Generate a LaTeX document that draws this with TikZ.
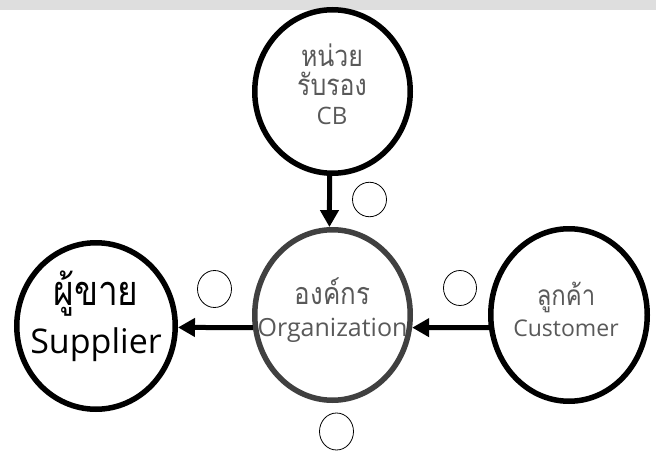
\documentclass[tikz,border=0pt]{standalone}
\usepackage{fontspec}
\setmainfont{Open Sans}
\newfontfamily\thaifont[Script=Thai, Scale=1.22, FakeStretch=0.85]{Loma}
\usetikzlibrary{arrows.meta,shapes.geometric}

\definecolor{barGray}{RGB}{222,222,222}
\definecolor{ringGray}{RGB}{64,64,64}
\definecolor{textGray}{RGB}{89,89,89}

\begin{document}
\begin{tikzpicture}[x = 1pt, y = -1pt,
  ring/.style={draw=black, line width=5.5pt, ellipse, inner sep=0pt},
  tag/.style={draw=black, line width=0.8pt, ellipse, inner sep=0pt},
  flow/.style={line width=5pt, -{Triangle[length=17pt,width=18pt]}},
  caption/.style={align=center, text=textGray, inner sep=0pt}]
\useasboundingbox (0,0) rectangle (656,452);
% Top bar
\fill[barGray] (0,0) rectangle (656,10);
% Certification body
\node[ring, minimum width=155.5pt, minimum height=163.5pt] (cb) at (332.5,91.5) {};
\node[caption, font=\fontsize{24}{29}\selectfont] (cbtext) at (332,84) {{\thaifont หน่วย}\\{\thaifont รับรอง}\\CB};
% Organization
\node[ring, draw=ringGray, minimum width=155.5pt, minimum height=170.5pt] (org) at (332.5,315) {};
\node[caption, font=\fontsize{25}{32}\selectfont] (orgtext) at (332.5,310) {{\thaifont องค์กร}\\Organization};
% Supplier
\node[ring, minimum width=158.5pt, minimum height=166.5pt] (sup) at (96,326) {};
\node[caption, text=black, font=\fontsize{34}{48}\selectfont] (suptext) at (96,316) {{\thaifont ผู้ขาย}\\Supplier};
% Customer
\node[ring, minimum width=156.5pt, minimum height=172.5pt] (cust) at (569,315) {};
\node[caption, font=\fontsize{23}{31}\selectfont] (custtext) at (566,309) {{\thaifont ลูกค้า}\\Customer};
% Arrows
\draw[flow] (cb.268) -- (org.92);
\draw[flow] (org.189) -- (sup.-1);
\draw[flow] (cust.189) -- (org.-9);
% Small empty circles
\node[tag, minimum width=34pt, minimum height=34.5pt] (tagcb) at (369.5,199.5) {};
\node[tag, minimum width=34pt, minimum height=37pt] (tagsup) at (214.5,289) {};
\node[tag, minimum width=33pt, minimum height=35pt] (tagcust) at (460,288) {};
\node[tag, minimum width=34pt, minimum height=37pt] (tagorg) at (336.5,431.5) {};
\end{tikzpicture}
\end{document}
